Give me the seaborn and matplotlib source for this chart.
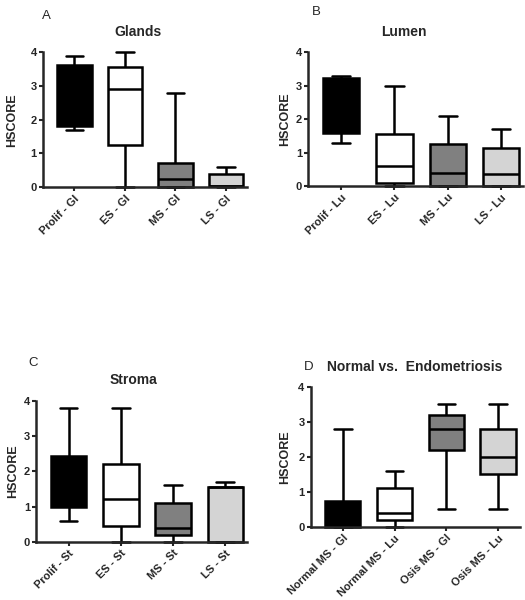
import matplotlib
matplotlib.use("Agg")
import matplotlib.pyplot as plt
import seaborn as sns
import pandas as pd

# five-number summaries per group: [min, q1, median, q3, max]
glands_cats = ["Prolif - Gl", "ES - Gl", "MS - Gl", "LS - Gl"]
glands_stats = [[1.7, 1.8, 2.6, 3.62, 3.9],
                [0.0, 1.25, 2.9, 3.55, 4.0],
                [0.0, 0.0, 0.25, 0.73, 2.8],
                [0.0, 0.05, 0.05, 0.4, 0.6]]

lumen_cats = ["Prolif - Lu", "ES - Lu", "MS - Lu", "LS - Lu"]
lumen_stats = [[1.3, 1.58, 2.5, 3.22, 3.3],
               [0.0, 0.1, 0.6, 1.55, 3.0],
               [0.0, 0.0, 0.4, 1.25, 2.1],
               [0.0, 0.0, 0.35, 1.15, 1.7]]

stroma_cats = ["Prolif - St", "ES - St", "MS - St", "LS - St"]
stroma_stats = [[0.6, 0.98, 1.8, 2.42, 3.8],
                [0.0, 0.45, 1.2, 2.2, 3.8],
                [0.0, 0.2, 0.4, 1.1, 1.6],
                [0.0, 0.0, 1.55, 1.55, 1.7]]

endo_cats = ["Normal MS - Gl", "Normal MS - Lu", "Osis MS - Gl", "Osis MS - Lu"]
endo_stats = [[0.0, 0.0, 0.25, 0.73, 2.8],
              [0.0, 0.2, 0.4, 1.1, 1.6],
              [0.5, 2.2, 2.8, 3.2, 3.5],
              [0.5, 1.5, 2.0, 2.8, 3.5]]

fills = ["#000000", "#ffffff", "#808080", "#d4d4d4"]
yticks = [0, 1, 2, 3, 4]

sns.set_style("ticks")
plt.rcParams["font.family"] = ["Liberation Sans", "DejaVu Sans"]

fig = plt.figure(figsize=(5.25, 6), dpi=100)


def panel(rect, cats, stats, pad):
    rows = []
    for c, s in zip(cats, stats):
        for v in s:
            rows.append({"group": c, "HSCORE": v})
    df = pd.DataFrame(rows)
    ax = fig.add_axes(rect)
    sns.boxplot(data=df, x="group", y="HSCORE", hue="group", order=cats,
                hue_order=cats, palette=fills, saturation=1, whis=(0, 100),
                width=0.68, linewidth=1.8, linecolor="black", legend=False,
                ax=ax)
    for a in ax.lines + ax.patches:
        a.set_clip_on(False)
    ax.set_ylim(0, 4)
    ax.set_xlim(-0.62, 3.42)
    ax.set_yticks(yticks)
    sns.despine(ax=ax)
    for sp in ["left", "bottom"]:
        ax.spines[sp].set_linewidth(1.8)
    ax.tick_params(width=1.5, length=3, labelsize=8, pad=1.5)
    for t in ax.get_yticklabels():
        t.set_fontweight("bold")
    ax.set_xticks(range(len(cats)))
    ax.set_xticklabels(cats, rotation=45, ha="right", rotation_mode="anchor",
                       fontweight="bold", fontsize=8)
    ax.set_xlabel("")
    ax.set_ylabel("HSCORE", fontweight="bold", fontsize=9, labelpad=pad)
    return ax


panel([0.082, 0.688, 0.389, 0.225], glands_cats, glands_stats, 9)
panel([0.587, 0.69, 0.41, 0.223], lumen_cats, lumen_stats, 3)
panel([0.069, 0.097, 0.402, 0.235], stroma_cats, stroma_stats, 3)
panel([0.592, 0.122, 0.398, 0.233], endo_cats, endo_stats, 5)

fig.text(42 / 525, 1 - 16 / 600, "A", fontsize=9.5, va="center")
fig.text(138 / 525, 1 - 32 / 600, "Glands", fontsize=10, fontweight="bold",
         ha="center", va="center")
fig.text(312 / 525, 1 - 12 / 600, "B", fontsize=9.5, va="center")
fig.text(404 / 525, 1 - 32 / 600, "Lumen", fontsize=10, fontweight="bold",
         ha="center", va="center")
fig.text(28 / 525, 1 - 363 / 600, "C", fontsize=9.5, va="center")
fig.text(133 / 525, 1 - 380 / 600, "Stroma", fontsize=10, fontweight="bold",
         ha="center", va="center")
fig.text(304 / 525, 1 - 367 / 600, "D", fontsize=9.5, va="center")
fig.text(415 / 525, 1 - 367 / 600, "Normal vs.  Endometriosis", fontsize=10,
         fontweight="bold", ha="center", va="center")

fig.savefig("out.png", dpi=100)
